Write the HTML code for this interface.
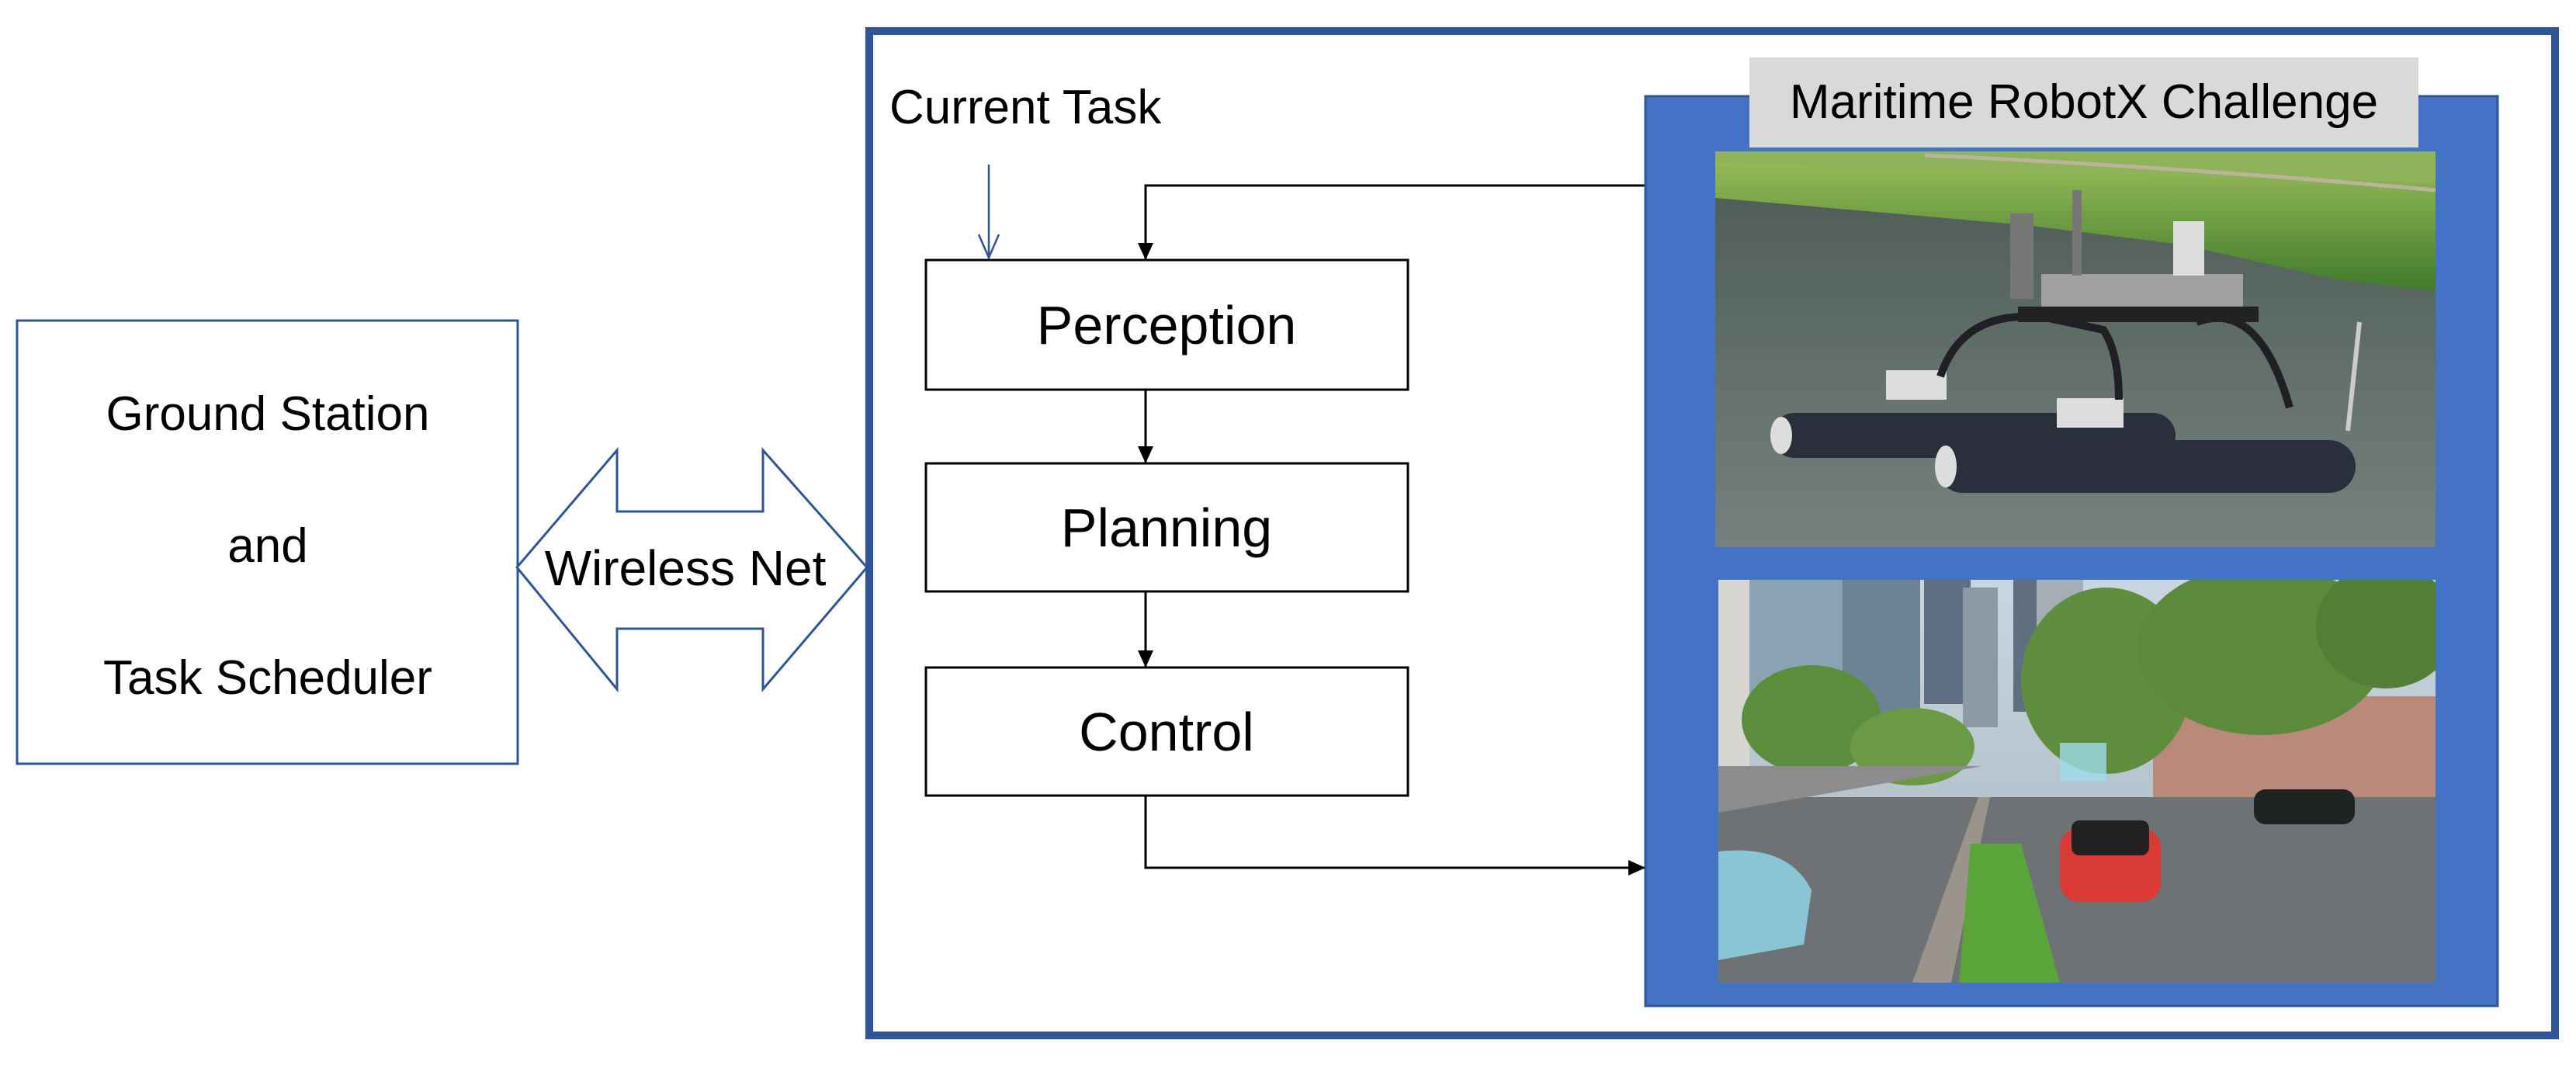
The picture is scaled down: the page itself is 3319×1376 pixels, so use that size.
<!DOCTYPE html>
<html><head><meta charset="utf-8"><style>
html,body{margin:0;padding:0;background:#fff;}
body{width:3319px;height:1371px;overflow:hidden;}
svg text{font-family:"Liberation Sans",sans-serif;}
</style></head><body>
<svg width="3319" height="1371" viewBox="0 0 3319 1371" xmlns="http://www.w3.org/2000/svg">
<defs>
<linearGradient id="water" x1="0" y1="0" x2="0" y2="1"><stop offset="0" stop-color="#4b5a52"/><stop offset="1" stop-color="#75817e"/></linearGradient>
<linearGradient id="grass" x1="0" y1="0" x2="0" y2="1"><stop offset="0" stop-color="#9cbf5a"/><stop offset="1" stop-color="#3f7a2c"/></linearGradient>
<linearGradient id="sky" x1="0" y1="0" x2="0" y2="1"><stop offset="0" stop-color="#c9d6e0"/><stop offset="1" stop-color="#a7b4bc"/></linearGradient>
<marker id="ah" markerWidth="22" markerHeight="20" refX="21" refY="10" orient="auto" markerUnits="userSpaceOnUse"><path d="M0,0 L22,10 L0,20z" fill="#000"/></marker>
</defs>

<rect x="22" y="413" width="645" height="571" fill="#fff" stroke="#2F5597" stroke-width="3"/>
<text x="345" y="554" font-size="62" text-anchor="middle">Ground Station</text>
<text x="345" y="724" font-size="62" text-anchor="middle">and</text>
<text x="345" y="894" font-size="62" text-anchor="middle">Task Scheduler</text>

<polygon points="666,731 795,580 795,659 983,659 983,580 1117,731 983,888 983,810 795,810 795,888" fill="#fff" stroke="#2F5597" stroke-width="3"/>
<text x="883" y="754" font-size="64" text-anchor="middle">Wireless Net</text>

<rect x="1120" y="40" width="2172" height="1294" fill="none" stroke="#2F5597" stroke-width="10"/>

<text x="1146" y="159" font-size="62">Current Task</text>
<line x1="1274" y1="212" x2="1274" y2="332" stroke="#2F5597" stroke-width="2.5"/>
<polyline points="1261,302 1274,332 1287,302" fill="none" stroke="#2F5597" stroke-width="2.5"/>

<rect x="1193" y="335" width="621" height="167" fill="#fff" stroke="#000" stroke-width="3"/>
<text x="1503" y="443" font-size="70" text-anchor="middle">Perception</text>
<rect x="1193" y="597" width="621" height="165" fill="#fff" stroke="#000" stroke-width="3"/>
<text x="1503" y="704" font-size="70" text-anchor="middle">Planning</text>
<rect x="1193" y="860" width="621" height="165" fill="#fff" stroke="#000" stroke-width="3"/>
<text x="1503" y="967" font-size="70" text-anchor="middle">Control</text>

<polyline points="2119,239 1476,239 1476,334" fill="none" stroke="#000" stroke-width="3" marker-end="url(#ah)"/>
<line x1="1476" y1="502" x2="1476" y2="596" stroke="#000" stroke-width="3" marker-end="url(#ah)"/>
<line x1="1476" y1="762" x2="1476" y2="859" stroke="#000" stroke-width="3" marker-end="url(#ah)"/>
<polyline points="1476,1025 1476,1118 2119,1118" fill="none" stroke="#000" stroke-width="3" marker-end="url(#ah)"/>

<rect x="2120" y="124" width="1098" height="1172" fill="#4472C4" stroke="#2F5597" stroke-width="3"/>
<rect x="2254" y="74" width="862" height="116" fill="#D9D9D9"/>
<text x="2685" y="152" font-size="62" text-anchor="middle">Maritime RobotX Challenge</text>

<svg x="2210" y="195" width="928" height="510" viewBox="0 0 928 510">
<rect width="928" height="510" fill="url(#water)"/>
<polygon points="0,0 928,0 928,180 800,165 600,120 400,95 0,60" fill="url(#grass)"/>
<polygon points="0,0 928,0 928,40 0,15" fill="#8fb35a"/>
<path d="M270,5 Q600,20 928,50" stroke="#b9b49a" stroke-width="5" fill="none"/>
<g fill="#2b2e3b">
<rect x="73" y="337" width="520" height="58" rx="29"/>
<rect x="285" y="372" width="540" height="68" rx="34"/>
</g>
<ellipse cx="85" cy="366" rx="14" ry="24" fill="#ddd"/>
<ellipse cx="297" cy="406" rx="14" ry="27" fill="#ddd"/>
<rect x="220" y="282" width="78" height="38" fill="#ddd"/>
<rect x="440" y="318" width="86" height="38" fill="#ddd"/>
<path d="M290,290 Q320,200 430,215 L500,230 Q520,260 520,320" stroke="#1f2026" stroke-width="10" fill="none"/>
<path d="M620,220 Q700,190 740,330" stroke="#1f2026" stroke-width="10" fill="none"/>
<rect x="420" y="158" width="260" height="50" fill="#a0a0a0"/>
<rect x="390" y="200" width="310" height="20" fill="#222"/>
<rect x="380" y="80" width="30" height="110" fill="#777"/>
<rect x="460" y="50" width="12" height="110" fill="#777"/>
<rect x="590" y="90" width="40" height="70" fill="#ddd"/>
<line x1="830" y1="220" x2="815" y2="360" stroke="#ccc" stroke-width="6"/>
</svg>

<svg x="2214" y="747" width="924" height="519" viewBox="0 0 924 519">
<rect width="924" height="519" fill="url(#sky)"/>
<rect x="0" y="0" width="40" height="270" fill="#d8d6d0"/>
<rect x="40" y="0" width="120" height="200" fill="#8aa3b3"/>
<rect x="160" y="0" width="100" height="180" fill="#6c8396"/>
<rect x="265" y="0" width="60" height="160" fill="#5d6f80"/>
<rect x="315" y="10" width="45" height="180" fill="#8c9aa6"/>
<rect x="380" y="0" width="70" height="170" fill="#606f7f"/>
<rect x="410" y="0" width="60" height="130" fill="#a4aeb5"/>
<rect x="560" y="150" width="364" height="200" fill="#b9897a"/>
<ellipse cx="120" cy="180" rx="90" ry="70" fill="#5b8d3d"/>
<ellipse cx="250" cy="215" rx="80" ry="50" fill="#6a9a44"/>
<ellipse cx="500" cy="130" rx="110" ry="120" fill="#5f8f3e"/>
<ellipse cx="700" cy="90" rx="160" ry="110" fill="#5a8a3a"/>
<ellipse cx="860" cy="60" rx="90" ry="80" fill="#527f35"/>
<polygon points="0,280 924,280 924,519 0,519" fill="#6e7275"/>
<polygon points="0,240 340,240 0,300" fill="#8c8c8c"/>
<polygon points="335,280 350,280 300,519 250,519" fill="#9a948a"/>
<polygon points="325,340 390,340 440,519 310,519" fill="#5aa53a"/>
<rect x="440" y="320" width="130" height="95" rx="25" fill="#d93a35"/>
<rect x="455" y="310" width="100" height="45" rx="10" fill="#222"/>
<path d="M0,350 Q90,340 120,400 L110,470 L0,490z" fill="#8fd3e6" opacity="0.85"/>
<rect x="690" y="270" width="130" height="45" rx="15" fill="#1f2422"/>
<rect x="440" y="210" width="60" height="50" fill="#9fdbea" opacity="0.8"/>
</svg>
</svg>
</body></html>
